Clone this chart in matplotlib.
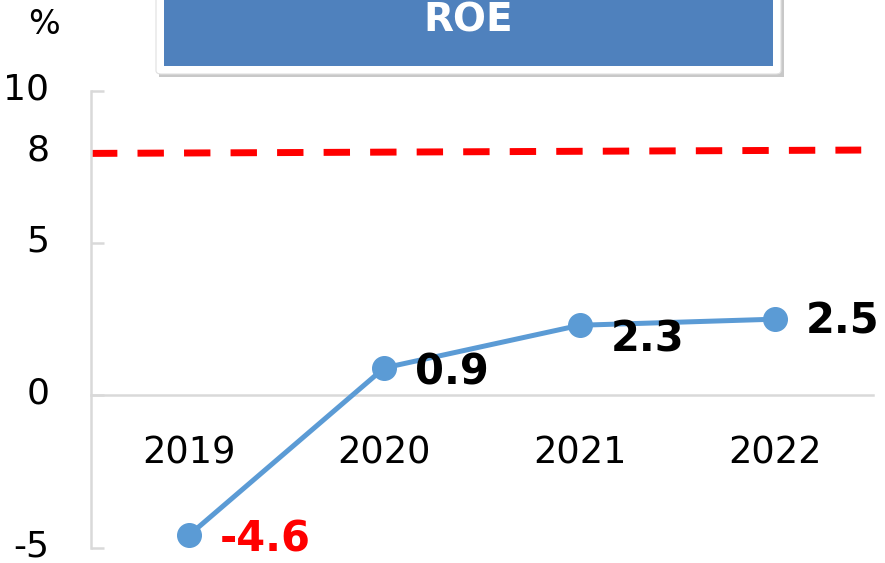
import matplotlib
matplotlib.use("Agg")
import matplotlib.pyplot as plt
from matplotlib.patches import FancyBboxPatch, Rectangle
from matplotlib.transforms import ScaledTranslation

# ---- data ----
years = ["2019", "2020", "2021", "2022"]
roe = [-4.6, 0.9, 2.3, 2.5]
target = [7.94, 8.05]          # dashed target line (left end, right end)
y_major = [-5, 0, 5, 10]
y_extra = [8]
title = "ROE"
unit = "%"

# ---- styles / positions ----
label_offsets = [(22, -3), (22, -3), (22, -10), (22, -2)]   # points
plt.rcParams['font.family'] = ['DejaVu Sans']

fig = plt.figure(figsize=(8.85, 5.63), dpi=100)
ax = fig.add_axes([0.1028, 0.0272, 0.8836, 0.8118])

x = list(range(len(years)))
ax.set_xlim(-0.5, len(years) - 0.5)
ax.set_ylim(min(y_major), max(y_major))

# target line
tl, = ax.plot([-0.5, 3.44], target, color='#FF0000', lw=5, solid_capstyle='butt',
              dash_capstyle='butt', zorder=2)
tl.set_dashes((3.8, 2.9))

# series
ax.plot(x, roe, color='#5B9BD5', lw=3.6, marker='o', markersize=17,
        markerfacecolor='#5B9BD5', markeredgecolor='#5B9BD5', zorder=4)

for xi, v, off in zip(x, roe, label_offsets):
    ax.annotate(f"{v:.1f}", xy=(xi, v), xytext=off, textcoords='offset points',
                ha='left', va='center', fontsize=30, fontweight='bold',
                color='#FF0000' if v < 0 else 'black', zorder=5)

# spines
for s in ['top', 'right']:
    ax.spines[s].set_visible(False)
ax.spines['left'].set_color('#D9D9D9')
ax.spines['left'].set_linewidth(1.8)
ax.spines['bottom'].set_position(('data', 0))
ax.spines['bottom'].set_color('#D9D9D9')
ax.spines['bottom'].set_linewidth(1.8)

ax.set_xticks(x)
ax.set_xticklabels(years)
ax.tick_params(axis='x', length=0, pad=28, labelsize=26.5)

ax.set_yticks(y_major)
ax.set_yticklabels([str(v) for v in y_major])
ax.tick_params(axis='y', which='major', direction='in', length=9.5, width=1.8,
               color='#D9D9D9', pad=30, labelsize=26)
ax.set_yticks(y_extra, minor=True)
ax.set_yticklabels([str(v) for v in y_extra], minor=True)
ax.tick_params(axis='y', which='minor', length=0, pad=30, labelsize=26)

up = ScaledTranslation(0, 5 / 100, fig.dpi_scale_trans)
for lab in ax.get_yticklabels(which='both'):
    lab.set_transform(lab.get_transform() + up)

# unit label
fig.text(44 / 885, 1 - 25 / 563, unit, ha='center', va='center', fontsize=24)

# title box
W, H = 885, 563
shadow = Rectangle((159 / W, 1 - 77 / H), 625 / W, 90 / H, transform=fig.transFigure,
                   facecolor='#C8C8C8', edgecolor='none', zorder=1)
white = FancyBboxPatch((156 / W, 1 - 74 / H), 625 / W, 90 / H, transform=fig.transFigure,
                       boxstyle='round,pad=0,rounding_size=0.006',
                       facecolor='white', edgecolor='#E0E0E0', lw=0.8, zorder=2)
blue = Rectangle((164 / W, 1 - 66 / H), 609 / W, 80 / H, transform=fig.transFigure,
                 facecolor='#4F81BD', edgecolor='none', zorder=3)
for p in (shadow, white, blue):
    fig.patches.append(p)
fig.text(468 / W, 1 - 21 / H, title, ha='center', va='center', fontsize=28,
         fontweight='bold', color='white', zorder=4)

fig.savefig("out.png", dpi=100)
